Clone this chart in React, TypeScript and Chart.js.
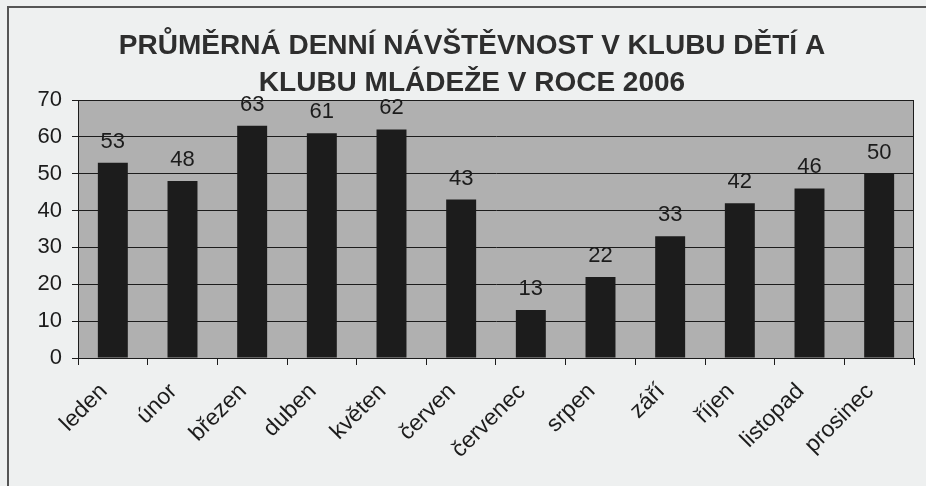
import { useEffect, useRef } from "react";
import { Chart, registerables } from "chart.js";

Chart.register(...registerables);

const months = ["leden", "únor", "březen", "duben", "květen", "červen", "červenec", "srpen", "září", "říjen", "listopad", "prosinec"];
const attendance = [53, 48, 63, 61, 62, 43, 13, 22, 33, 42, 46, 50];
const titleLines = ["PRŮMĚRNÁ DENNÍ NÁVŠTĚVNOST V KLUBU DĚTÍ A", "KLUBU MLÁDEŽE V ROCE 2006"];
const yMin = 0;
const yMax = 70;
const yStep = 10;

const FONT = "'Liberation Sans', Arial, sans-serif";
const INK = "#1c1c1c";

const backgroundPlugin = {
  id: "scanBackground",
  beforeDraw(chart: any) {
    const { ctx, width, height, chartArea } = chart;
    ctx.save();
    ctx.fillStyle = "#eef0f0";
    ctx.fillRect(0, 0, width, height);
    ctx.strokeStyle = "#555";
    ctx.lineWidth = 2;
    ctx.beginPath();
    ctx.moveTo(8, height);
    ctx.lineTo(8, 7);
    ctx.lineTo(width, 7);
    ctx.stroke();
    ctx.fillStyle = "#b0b0b0";
    ctx.fillRect(chartArea.left, chartArea.top, chartArea.right - chartArea.left, chartArea.bottom - chartArea.top);
    ctx.restore();
  },
  afterDatasetsDraw(chart: any) {
    const { ctx, chartArea } = chart;
    ctx.save();
    ctx.strokeStyle = INK;
    ctx.lineWidth = 1;
    ctx.strokeRect(chartArea.left + 0.5, chartArea.top + 0.5, chartArea.right - chartArea.left - 1, chartArea.bottom - chartArea.top);
    const meta = chart.getDatasetMeta(0);
    ctx.fillStyle = INK;
    ctx.font = `22px ${FONT}`;
    ctx.textAlign = "center";
    ctx.textBaseline = "alphabetic";
    meta.data.forEach((bar: any, i: number) => {
      ctx.fillText(String(chart.data.datasets[0].data[i]), bar.x, bar.y - 15);
    });
    ctx.restore();
  },
};

export default function App() {
  const ref = useRef<HTMLCanvasElement | null>(null);
  useEffect(() => {
    document.body.style.margin = "0";
    if (!ref.current) return;
    const chart = new Chart(ref.current, {
      type: "bar",
      data: {
        labels: months,
        datasets: [
          {
            data: attendance,
            backgroundColor: INK,
            borderWidth: 0,
            barPercentage: 0.43,
            categoryPercentage: 1,
          },
        ],
      },
      options: {
        responsive: false,
        animation: false,
        layout: { padding: { left: 30, right: 12, top: 0, bottom: 0 } },
        plugins: {
          legend: { display: false },
          tooltip: { enabled: false },
          title: {
            display: true,
            text: titleLines,
            color: "#2e2e2e",
            font: { family: FONT, size: 28, weight: "bold", lineHeight: 37 / 28 },
            padding: { top: 28, bottom: -2 },
          },
        },
        scales: {
          x: {
            offset: true,
            grid: { offset: true, drawOnChartArea: false, color: INK, tickLength: 7 },
            border: { color: INK, width: 1 },
            ticks: {
              autoSkip: false,
              minRotation: 45,
              maxRotation: 45,
              color: INK,
              font: { family: FONT, size: 23 },
              padding: 13,
              labelOffset: -9,
            },
            afterFit: (s: any) => {
              s.height = 128;
            },
          },
          y: {
            min: yMin,
            max: yMax,
            ticks: { stepSize: yStep, color: INK, font: { family: FONT, size: 22 }, padding: 10 },
            grid: { color: INK, lineWidth: 1, tickLength: 6 },
            border: { color: INK, width: 1 },
            afterFit: (s: any) => {
              s.width = 48;
            },
          },
        },
      },
      plugins: [backgroundPlugin],
    });
    return () => chart.destroy();
  }, []);
  return (
    <div style={{ width: 926, height: 486 }}>
      <canvas ref={ref} width={926} height={486} />
    </div>
  );
}
